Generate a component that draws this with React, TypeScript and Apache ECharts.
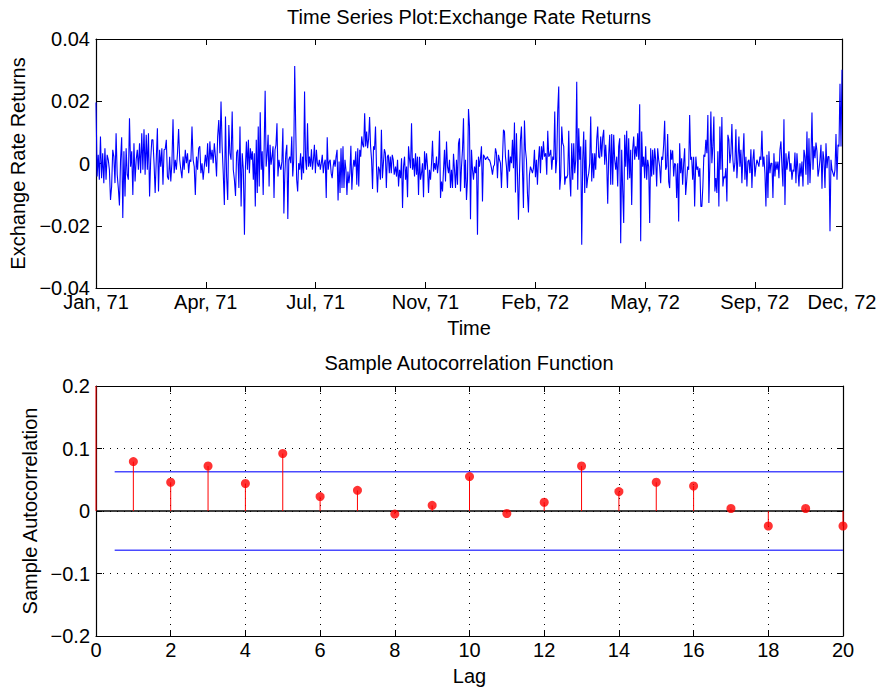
import React, { useEffect, useRef } from "react";
import * as echarts from "echarts";

// Exchange rate returns, in units of 0.001 (left to right), in five stretches
const RETURNS_PART1 = [19.6,-4.2,2.8,-5.2,8.7,-4.7,3.3,-6.3,4.9,-5.2,2.8,1.2,-2.0,-11.7,-7.4,4.4,2.2,-6.3,9.7,-3.6,-7.9,-13.5,1.2,8.4,-17.5,3.9,-10.6,4.9,-3.6,-5.2,14.5,-1.0,3.9,-10.1,6.5,-5.8,1.2,4.4,-2.0,6.5,-3.1,9.7,-2.0,11.0,-3.6,9.2,-2.0,9.7,-10.6,1.2,7.6,7.6,0.1,-9.5,1.2,11.3,-9.0,4.4,-1.0,4.9,-6.8,4.4,4.6,7.6,-4.2,-5.2,2.2,-5.8,0.1,14.2,-3.1,1.2,-2.0,3.3,11.1,1.2,-2.0,-4.7,2.2,-2.0,4.4,0.1,3.3,-3.1,1.2,0.6,11.9,1.2,-1.0,-10.1,2.2,-2.0,4.9,5.5,-3.1,0.1,-5.2,-1.0,2.8,-1.0,6.5,-3.1,7.1,1.2,4.4,0.1,6.5,2.2,-4.2,8.7,14.0,3.3,19.9,5.5,-3.1,-13.3,15.1,-4.2,-11.7,12.4,3.3,1.2,16.7,-2.0,-5.2,-10.4,3.5,4.4,-7.9,11.9,-13.8,3.3,-2.0,-22.9];
const RETURNS_PART2 = [-1.0,7.1,-2.0,7.6,-3.1,4.9,1.2,3.9,-5.2,3.3,-13.8,7.6,-9.5,11.9,-7.4,16.5,-2.0,3.9,-10.1,5.5,23.4,-1.0,2.8,9.2,-7.4,6.0,-0.4,2.2,5.5,-11.1,4.4,6.0,12.9,-4.2,1.2,-1.0,-2.0,0.6,11.3,-16.1,-3.1,3.3,6.0,-17.8,1.2,2.2,0.1,8.7,-4.2,1.2,31.3,11.9,-5.2,-9.0,0.1,-2.0,3.3,-5.2,2.2,-3.1,23.1,1.2,-2.0,12.9,-1.0,2.2,-1.0,4.6,-2.0,1.2,6.0,-3.1,4.4,0.1,-1.0,1.2,-2.0,0.1,2.8,-3.1,0.1,1.2,-11.1,8.4,-2.0,0.6,1.2,-3.1,-4.7,-1.0,1.2,-1.0,2.2,4.4,-11.9,0.6,-9.5,4.9,-7.9,5.5,-7.9,1.2,-2.0,-10.1,-2.6,-6.3,-3.1,5.7,-8.4,-2.0,1.2,-1.0,3.9,-6.8,4.9,-7.4,4.4,2.2,8.7,6.0,5.2,16.1,5.5,10.3,4.9,7.8,14.9,5.5,1.2,-8.2,5.5,4.4,11.9,-1.0,-9.3,-1.0,-2.0,-5.2,10.8,-4.7,0.1,4.6,3.3,-7.9,2.2,2.8,-3.1,2.2,-3.1,2.8,1.2,-3.6];
const RETURNS_PART3 = [-1.0,-4.2,1.2,-7.4,-2.0,-4.7,1.7,-14.3,-1.0,2.2,-5.2,-1.0,-10.8,5.5,1.2,-1.5,12.9,-2.0,1.7,-4.2,3.3,-3.6,2.2,-10.1,2.2,-5.2,-3.1,0.1,-10.8,3.9,-2.0,3.3,-1.0,-9.5,-2.0,-5.2,0.1,7.3,-2.6,0.1,-2.0,2.2,-3.1,0.1,10.5,-11.1,-5.8,-9.0,-2.0,4.4,-5.8,7.1,-1.0,-3.1,1.2,-7.9,-2.0,-7.9,3.1,-2.0,-7.9,1.2,-6.8,6.5,8.1,-9.0,-1.0,4.4,14.5,-7.9,1.2,-11.7,-5.2,17.5,11.9,-17.9,4.4,-2.0,-5.2,-1.0,-3.1,1.2,-22.9,2.2,-1.0,1.7,5.5,-12.2,2.8,2.2,1.2,1.7,2.2,1.2,1.2,0.1,-1.5,-3.6,-1.0,-0.4,4.9,3.3,-4.7,2.8,1.2,0.1,-7.9,1.2,10.8,10.3,2.2,-1.0,-7.9,4.4,-2.6,2.2,0.1,7.6,-1.5,13.2,-9.3,9.7,-3.1,-18.1,-3.6,7.6,11.9,-2.0,-14.3,13.8,4.4,1.2,-9.5,-15.7,-3.6,-1.0,-2.0,-3.1,-1.5,4.4,-4.4,1.2,-6.8,1.2,5.5,-3.1,5.5,1.2,7.1,2.2];
const RETURNS_PART4 = [3.3,-3.6,10.5,2.2,2.8,4.4,-2.0,2.2,1.2,16.7,-3.1,1.2,17.2,24.7,-8.4,-4.2,11.9,6.5,5.5,-6.8,-4.2,-4.7,-3.6,10.5,-4.2,-10.6,6.5,-5.2,6.5,-3.1,1.2,26.3,-8.4,11.3,1.2,5.5,-26.1,1.2,10.3,-9.5,7.6,-7.9,-4.7,-3.1,0.1,15.1,-5.8,3.3,-4.7,3.3,-2.0,7.6,11.9,2.2,1.7,8.7,2.2,8.4,10.8,-0.4,6.0,0.1,-12.9,2.8,9.2,-6.8,9.5,-6.8,9.2,1.2,-2.0,2.2,-7.4,5.5,8.1,-25.6,4.4,-8.4,-19.1,9.2,-1.0,10.5,-5.2,8.1,-4.7,4.4,-13.3,4.4,8.7,1.2,5.5,2.2,9.7,1.2,19.0,-25.0,10.3,-1.0,2.2,-4.7,5.5,-5.2,1.2,-1.0,-19.1,4.9,-4.2,4.4,-3.6,4.9,1.2,-7.4,4.9,1.2,-1.0,-6.3,2.2,1.2,6.0,13.7,-2.0,-1.0,9.5,-5.8,-7.9,4.4,1.2,4.2,-4.2,0.1,-0.4,-11.1,0.1,-18.6,6.5,-3.1,1.7,-6.8,0.1,4.9,-10.1,-5.8,-1.0,-2.0,15.6,1.2,2.2,-5.2,2.2,-13.8];
const RETURNS_PART5 = [2.2,-2.0,-1.0,-4.2,-1.5,-13.8,-13.8,-7.4,2.8,2.2,7.6,3.3,15.6,-12.7,0.1,16.7,0.1,5.5,15.1,-9.0,-4.7,-9.5,3.9,-13.8,11.9,-2.0,14.9,-7.4,-4.2,-4.7,-1.5,-12.2,9.2,7.6,0.1,3.3,12.7,1.2,-2.6,0.1,11.0,-4.7,1.2,8.7,-1.0,4.4,-6.3,2.2,9.7,-5.2,2.2,-7.4,0.6,1.2,-3.1,4.6,-7.9,1.2,4.6,-4.2,-1.0,1.2,0.1,-1.0,2.2,1.2,10.5,-1.0,2.2,-3.1,-13.8,2.8,-11.1,3.9,-3.1,0.1,0.1,-11.1,3.3,-4.2,0.6,-2.0,0.6,-4.7,4.4,7.1,-1.0,-7.4,14.2,-13.3,3.3,-2.0,1.2,3.9,-2.6,0.1,-5.2,-2.0,-2.6,3.5,-6.3,3.3,-2.0,-7.4,0.1,-4.2,0.6,-7.4,4.4,2.2,-3.6,10.3,-6.8,8.1,-6.3,2.2,16.4,-2.0,5.5,1.7,6.7,3.9,-4.2,-2.0,1.2,6.0,-8.1,3.9,1.2,-7.9,6.5,-1.5,2.2,2.2,-21.8,1.2,-2.0,-3.1,-4.2,-2.0,9.5,-5.2,6.0,5.5,25.6,5.5,30.1];

// time covered by each stretch, in units of the spacing between time ticks
const PART_TIME_SPANS = [[0, 1.352], [1.361, 2.716], [2.728, 4.084], [4.096, 5.452], [5.463, 6.794]];
const TIME_AXIS_END = 6.794;
const TIME_TICK_LABELS = ["Jan, 71", "Apr, 71", "Jul, 71", "Nov, 71", "Feb, 72", "May, 72", "Sep, 72", "Dec, 72"];
const RETURN_TICK_LABELS = ["\u22120.04", "\u22120.02", "0", "0.02", "0.04"];

const ACF_LAGS = [0, 1, 2, 3, 4, 5, 6, 7, 8, 9, 10, 11, 12, 13, 14, 15, 16, 17, 18, 19, 20];
const ACF_VALUES = [1, 0.079, 0.046, 0.072, 0.044, 0.092, 0.023, 0.033, -0.005, 0.009, 0.055, -0.004, 0.014, 0.072, 0.031, 0.046, 0.040, 0.004, -0.024, 0.004, -0.024];
const ACF_BOUND = 0.0627;
const ACF_TICK_LABELS = ["\u22120.2", "\u22120.1", "0", "0.1", "0.2"];

const FONT = "'Liberation Sans', Arial, Helvetica, sans-serif";

export default function App() {
  const ref = useRef<HTMLDivElement>(null);

  useEffect(() => {
    if (!ref.current) return;
    const chart = echarts.init(ref.current, null, { renderer: "svg" });

    const parts = [RETURNS_PART1, RETURNS_PART2, RETURNS_PART3, RETURNS_PART4, RETURNS_PART5];
    const lineData: number[][] = [];
    parts.forEach((part, k) => {
      const [a, b] = PART_TIME_SPANS[k];
      part.forEach((v, i) => {
        lineData.push([a + ((b - a) * i) / (part.length - 1), v / 1000]);
      });
    });
    const acfData = ACF_LAGS.map((l, i) => [l, ACF_VALUES[i]]);

    const axisLine = { show: true, onZero: false, lineStyle: { color: "#000", width: 1.2 } };
    const tick = { show: true, inside: true, length: 6, lineStyle: { color: "#000", width: 1 } };
    const label = { color: "#000", fontFamily: FONT, fontSize: 20, lineHeight: 14 };
    const nameStyle = { color: "#000", fontFamily: FONT, fontSize: 20 };
    const dotted = { show: true, lineStyle: { color: "#000", width: 1, type: [1, 6] as any } };
    const ACF_MIN = -0.2, ACF_MAX = 0.2;
    const titleStyle = { fontFamily: FONT, fontSize: 20, fontWeight: "normal", color: "#000" };

    const option: any = {
      animation: false,
      backgroundColor: "#fff",
      title: [
        { text: "Time Series Plot:Exchange Rate Returns", left: 469, top: 7, padding: 0, textAlign: "center", textStyle: titleStyle },
        { text: "Sample Autocorrelation Function", left: 469, top: 353, padding: 0, textAlign: "center", textStyle: titleStyle },
      ],
      grid: [
        { left: 96, top: 39, width: 746, height: 249, containLabel: false },
        { left: 96, top: 386, width: 747, height: 250, containLabel: false },
      ],
      xAxis: [
        {
          type: "value", gridIndex: 0, position: "bottom", min: 0, max: TIME_AXIS_END, interval: 1,
          axisLine, axisTick: tick, splitLine: { show: false },
          axisLabel: {
            ...label, margin: 7, showMinLabel: true, showMaxLabel: true,
            formatter: (v: number) => TIME_TICK_LABELS[Math.round(v)] ?? "",
          },
          name: "Time", nameLocation: "middle", nameGap: 30, nameTextStyle: nameStyle,
        },
        {
          type: "value", gridIndex: 0, position: "top", min: 0, max: TIME_AXIS_END, interval: 1,
          axisLine, axisTick: tick, splitLine: { show: false }, axisLabel: { show: false },
        },
        {
          type: "value", gridIndex: 1, position: "bottom", min: 0, max: 20, interval: 2,
          axisLine, axisTick: tick, splitLine: dotted,
          axisLabel: { ...label, margin: 7, showMinLabel: true, showMaxLabel: true },
          name: "Lag", nameLocation: "middle", nameGap: 30, nameTextStyle: nameStyle,
        },
        {
          type: "value", gridIndex: 1, position: "top", min: 0, max: 20, interval: 2,
          axisLine, axisTick: tick, splitLine: { show: false }, axisLabel: { show: false },
        },
      ],
      yAxis: [
        {
          type: "value", gridIndex: 0, position: "left", min: -0.04, max: 0.04, interval: 0.02,
          axisLine, axisTick: tick, splitLine: { show: false },
          axisLabel: {
            ...label, margin: 6, showMinLabel: true, showMaxLabel: true,
            formatter: (v: number) => RETURN_TICK_LABELS[Math.round((v + 0.04) / 0.02)] ?? "",
          },
          name: "Exchange Rate Returns", nameLocation: "middle", nameGap: 66, nameRotate: 90, nameTextStyle: nameStyle,
        },
        {
          type: "value", gridIndex: 0, position: "right", min: -0.04, max: 0.04, interval: 0.02,
          axisLine, axisTick: tick, splitLine: { show: false }, axisLabel: { show: false },
        },
        {
          type: "value", gridIndex: 1, position: "left", min: ACF_MIN, max: ACF_MAX, interval: 0.1,
          axisLine, axisTick: tick, splitLine: dotted,
          axisLabel: {
            ...label, margin: 6, showMinLabel: true, showMaxLabel: true,
            formatter: (v: number) => ACF_TICK_LABELS[Math.round((v + 0.2) / 0.1)] ?? "",
          },
          name: "Sample Autocorrelation", nameLocation: "middle", nameGap: 56, nameRotate: 90, nameTextStyle: nameStyle,
        },
        {
          type: "value", gridIndex: 1, position: "right", min: ACF_MIN, max: ACF_MAX, interval: 0.1,
          axisLine, axisTick: tick, splitLine: { show: false }, axisLabel: { show: false },
        },
      ],
      series: [
        {
          type: "line", xAxisIndex: 0, yAxisIndex: 0, data: lineData, showSymbol: false, symbol: "none",
          lineStyle: { color: "#0000ff", width: 1.1 }, clip: true,
        },
        {
          type: "line", xAxisIndex: 2, yAxisIndex: 2, data: [[0, 0], [20, 0]], symbol: "none",
          lineStyle: { color: "#000", width: 1.3 }, z: 3,
        },
        {
          type: "line", xAxisIndex: 2, yAxisIndex: 2, data: [[0.5, ACF_BOUND], [20, ACF_BOUND]], symbol: "none",
          lineStyle: { color: "#4a4aff", width: 1.4 },
        },
        {
          type: "line", xAxisIndex: 2, yAxisIndex: 2, data: [[0.5, -ACF_BOUND], [20, -ACF_BOUND]], symbol: "none",
          lineStyle: { color: "#4a4aff", width: 1.4 },
        },
        {
          type: "custom", xAxisIndex: 2, yAxisIndex: 2, data: acfData, z: 4,
          encode: { x: 0, y: 1 },
          renderItem: (_p: any, api: any) => {
            const lag = api.value(0);
            const v = Math.max(ACF_MIN, Math.min(ACF_MAX, api.value(1)));
            const a = api.coord([lag, 0]);
            const b = api.coord([lag, v]);
            return {
              type: "line",
              shape: { x1: a[0], y1: a[1], x2: b[0], y2: b[1] },
              style: { stroke: "#ff0000", lineWidth: 1 },
            };
          },
        },
        {
          type: "scatter", xAxisIndex: 2, yAxisIndex: 2, data: acfData, symbol: "circle", symbolSize: 9,
          itemStyle: { color: "#ff0000" }, clip: true, z: 5,
        },
      ],
    };

    chart.setOption(option);
    return () => chart.dispose();
  }, []);

  return (
    <div
      ref={ref}
      style={{ position: "fixed", left: 0, top: 0, width: 882, height: 693, background: "#fff" }}
    />
  );
}
